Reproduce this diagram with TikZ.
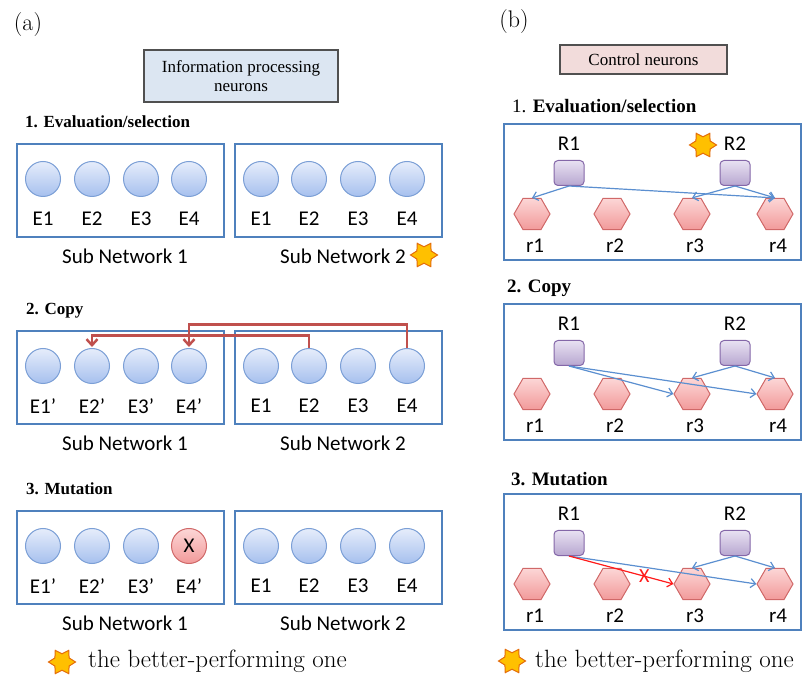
\documentclass[tikz,border=0pt]{standalone}
\usepackage{fontspec}
\newfontfamily\calib{Carlito}
\newfontfamily\tnr{Liberation Serif}
\usetikzlibrary{shapes.geometric,arrows.meta}

\definecolor{boxblue}{HTML}{4F81BD}
\definecolor{neurline}{HTML}{7B9FD6}
\definecolor{neurtop}{HTML}{E6EDFB}
\definecolor{neurbot}{HTML}{A6C0EE}
\definecolor{hexline}{HTML}{D06868}
\definecolor{hextop}{HTML}{FCD6D6}
\definecolor{hexbot}{HTML}{F29A9A}
\definecolor{ctrlline}{HTML}{8467A8}
\definecolor{ctrltop}{HTML}{E8E1F2}
\definecolor{ctrlbot}{HTML}{B8A7D0}
\definecolor{staryel}{HTML}{FFC000}
\definecolor{starorg}{HTML}{E46C0A}
\definecolor{copyred}{HTML}{C0504D}
\definecolor{linkblue}{HTML}{5B8FD0}
\definecolor{mutred}{HTML}{FF1A1A}
\definecolor{infofill}{HTML}{DCE6F2}
\definecolor{ctrlfill}{HTML}{F2DCDB}
\definecolor{titleline}{HTML}{505050}

\tikzset{
 neuron/.style={circle,minimum size=35pt,inner sep=0pt,draw=neurline,line width=1pt,top color=neurtop,bottom color=neurbot},
 mutant/.style={neuron,draw=hexline,top color=hextop,bottom color=hexbot,font=\calib\fontsize{21}{24}\selectfont},
 ctrl/.style={rectangle,rounded corners=4pt,minimum width=30pt,minimum height=25pt,draw=ctrlline,line width=1pt,top color=ctrltop,bottom color=ctrlbot},
 hexa/.style={regular polygon,regular polygon sides=6,minimum size=36pt,inner sep=0pt,draw=hexline,line width=1pt,top color=hextop,bottom color=hexbot},
 lbl/.style={font=\calib\fontsize{21}{24}\selectfont,inner sep=0pt},
 heada/.style={font=\tnr\bfseries\fontsize{17}{20}\selectfont,anchor=west,inner sep=0pt},
 headb/.style={font=\tnr\bfseries\fontsize{19}{22}\selectfont,anchor=west,inner sep=0pt},
 title/.style={draw=titleline,line width=1.5pt,font=\tnr\fontsize{17}{19}\selectfont,align=center,inner sep=0pt},
 netbox/.style={draw=boxblue,line width=2pt},
 starmark/.style={star,star points=6,star point ratio=1.65,minimum size=27pt,inner sep=0pt,rotate=90,fill=staryel,draw=starorg,line width=1pt},
 legend/.style={font=\fontsize{25}{28}\selectfont,anchor=base west,inner sep=0pt},
 panel/.style={font=\fontsize{24}{28}\selectfont,inner sep=0pt},
 copyline/.style={draw=copyred,line width=2.5pt,-{Straight Barb[length=6pt,width=11pt]},shorten >=1pt},
 link/.style={draw=linkblue,line width=1.2pt,-{Straight Barb[length=5pt,width=9pt]}},
}

\begin{document}
\begin{tikzpicture}[x=1pt,y=1pt]
 \useasboundingbox (0,0) rectangle (803,675);

 \node[panel] (pa) at (28,650) {(a)};
 \node[panel] (pb) at (514,653) {(b)};
 \node[title,fill=infofill,minimum width=194pt,minimum height=52pt] (info) at (241,599) {Information processing\\neurons};
 \node[title,fill=ctrlfill,minimum width=167pt,minimum height=29pt] (control) at (643.5,615.5) {Control neurons};

 \node[heada] (ha1) at (25,553) {1. Evaluation/selection};
 \node[heada] (ha2) at (26,364) {2. Copy};
 \node[heada] (ha3) at (26,186) {3. Mutation};
 \node[headb] (hb1) at (512,569) {{\mdseries 1.} Evaluation/selection};
 \node[headb] (hb2) at (507,387) {2. Copy};
 \node[headb] (hb3) at (511,196) {3. Mutation};

 \foreach \row/\cy/\pr in {1/496/{},2/309/{’},3/129/{’}} {
   \draw[netbox] (17,\cy+35) rectangle (224,\cy-58);
   \draw[netbox] (235,\cy+35) rectangle (442,\cy-58);
   \foreach \i/\x in {1/43,2/92,3/141,4/189} {
     \ifnum\row\i=34 \def\nst{mutant}\def\ntx{X}\else\def\nst{neuron}\def\ntx{}\fi
     \node[\nst] (a\row l\i) at (\x,\cy) {\ntx};
     \node[lbl] at (\x,\cy-40) {E\i\pr};
   }
   \foreach \i/\x in {1/261,2/309,3/358,4/407} {
     \node[neuron] (a\row r\i) at (\x,\cy) {};
     \node[lbl] at (\x,\cy-40) {E\i};
   }
   \node[lbl] (sn\row a) at (125,\cy-77) {Sub Network 1};
   \node[lbl] (sn\row b) at (343,\cy-77) {Sub Network 2};
 }
 \node[starmark] (beststar) at (424,420) {};
 \draw[copyline] (a2r2.north) -- ++(0,12.5) -| (a2l2.north);
 \draw[copyline] (a2r4.north) -- ++(0,23.5) -| (a2l4.north);

 \foreach \row/\sy in {1/502,2/322,3/132} {
   \draw[netbox] (504,\sy+49) rectangle (801,\sy-87);
   \node[ctrl] (b\row R1) at (569,\sy) {};
   \node[ctrl] (b\row R2) at (735,\sy) {};
   \node[lbl] at (569,\sy+29) {R1};
   \node[lbl] at (735,\sy+29) {R2};
   \foreach \i/\x in {1/532,2/612,3/692,4/775} {
     \node[hexa] (b\row r\i) at (\x,\sy-41) {};
     \node[lbl] at (\x+3,\sy-73) {r\i};
   }
   \draw[link] (b\row R2.south) -- (b\row r3.north);
   \draw[link] (b\row R2.south) -- (b\row r4.north);
 }
 \node[starmark] (ctrlstar) at (703,530) {};
 \draw[link] (b1R1.south) -- (b1r1.north);
 \draw[link] (b1R1.south) -- (b1r4.north);
 \draw[link] (b2R1.south) -- (b2r3.west);
 \draw[link] (b2R1.south) -- (b2r4.west);
 \draw[link] (b3R1.south) -- (b3r4.west);
 \draw[link,draw=mutred] (b3R1.south) -- node[pos=.72,lbl,text=mutred,font=\calib\fontsize{20}{20}\selectfont] (cut) {X} (b3r3.west);

 \node[starmark] (legstara) at (62,13) {};
 \node[legend] (lega) at (88,8) {the better-performing one};
 \node[starmark] (legstarb) at (512,14) {};
 \node[legend] (legb) at (535,8) {the better-performing one};
\end{tikzpicture}
\end{document}
